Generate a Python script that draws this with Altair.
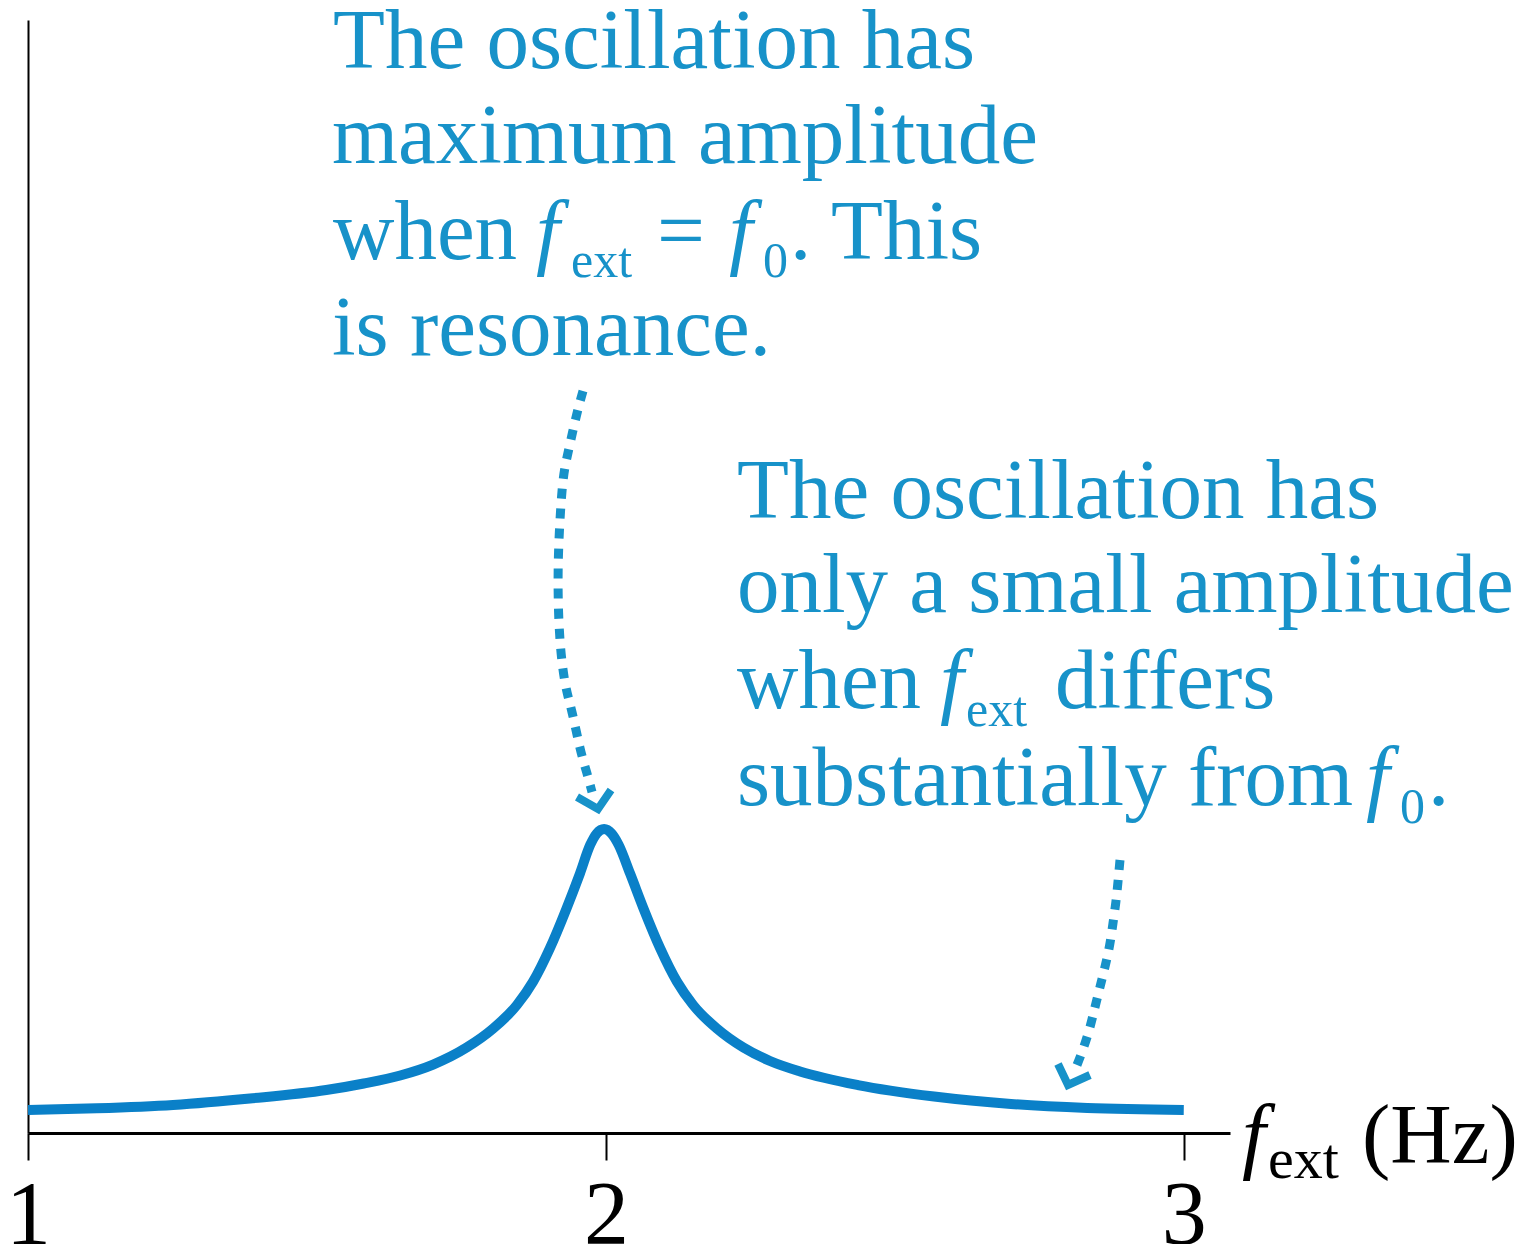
import altair as alt
import pandas as pd

# ---------------- data ----------------
F_EXT = [1.000, 1.119, 1.251, 1.384, 1.516, 1.581, 1.644, 1.701, 1.759, 1.805, 1.846, 1.874,
         1.903, 1.932, 1.955, 1.973, 1.984, 1.997, 2.010, 2.022, 2.042, 2.065, 2.094, 2.123,
         2.151, 2.192, 2.238, 2.284, 2.336, 2.436, 2.568, 2.701, 2.833, 3.000]
AMPLITUDE = [0.0207, 0.0222, 0.0252, 0.0310, 0.0386, 0.0445, 0.0517, 0.0615, 0.0768, 0.0939,
             0.1150, 0.1360, 0.1659, 0.2019, 0.2330, 0.2590, 0.2690, 0.2731, 0.2690, 0.2590,
             0.2330, 0.2019, 0.1659, 0.1360, 0.1150, 0.0939, 0.0768, 0.0647, 0.0553, 0.0431,
             0.0328, 0.0261, 0.0225, 0.0207]
X_TICKS = [1, 2, 3]

# ---------------- layout ----------------
X_MIN, X_MAX = 1.0, 3.08
Y_MIN, Y_MAX = 0.0, 1.0
PLOT_W, PLOT_H = 1202, 1113
PAD_L, PAD_T = 20, 12
TOTAL_W, TOTAL_H = 1514, 1236
PAD_R = TOTAL_W - PAD_L - PLOT_W
PAD_B = TOTAL_H - PAD_T - PLOT_H

BLUE_LINE = "#0a80c8"
BLUE_TEXT = "#1792c9"
FONT = "Liberation Serif"
BIG = 85
SUB = 50


def to_data(px, py):
    """reference page position -> data units"""
    x0, y0 = 8 + PAD_L, 8 + PAD_T
    f = X_MIN + (px - x0) / PLOT_W * (X_MAX - X_MIN)
    a = Y_MAX - (py - y0) / PLOT_H * (Y_MAX - Y_MIN)
    return f, a


# text segments: text, x, baseline y (reference page px), size, italic, colour
SEGMENTS = [
    ("The oscillation has", 333, 68, BIG, False, BLUE_TEXT),
    ("maximum amplitude", 332, 163, BIG, False, BLUE_TEXT),
    ("when", 333, 259, BIG, False, BLUE_TEXT),
    ("f", 536, 259, BIG, True, BLUE_TEXT),
    ("ext", 571, 277, SUB, False, BLUE_TEXT),
    ("=", 657, 259, BIG, False, BLUE_TEXT),
    ("f", 729, 259, BIG, True, BLUE_TEXT),
    ("0", 763, 277, SUB, False, BLUE_TEXT),
    (". This", 790, 259, BIG, False, BLUE_TEXT),
    ("is resonance.", 332, 355, BIG, False, BLUE_TEXT),
    ("The oscillation has", 737, 518, BIG, False, BLUE_TEXT),
    ("only a small amplitude", 737, 612, BIG, False, BLUE_TEXT),
    ("when", 737, 708, BIG, False, BLUE_TEXT),
    ("f", 940, 708, BIG, True, BLUE_TEXT),
    ("ext", 966, 726, SUB, False, BLUE_TEXT),
    ("differs", 1055, 708, BIG, False, BLUE_TEXT),
    ("substantially from", 737, 805, BIG, False, BLUE_TEXT),
    ("f", 1366, 805, BIG, True, BLUE_TEXT),
    ("0", 1400, 823, SUB, False, BLUE_TEXT),
    (".", 1428, 805, BIG, False, BLUE_TEXT),
    ("f", 1242, 1163, BIG, True, "black"),
    ("ext", 1268, 1178, 58, False, "black"),
    ("(Hz)", 1362, 1163, BIG, False, "black"),
]

# dotted arrows (reference page px)
ARROW1 = [(583, 391), (577, 412), (568, 453), (563, 475), (560, 517), (558, 560), (558, 603),
          (560, 647), (565, 687), (572, 710), (580, 750), (587, 773), (592, 792)]
ARROW2 = [(1120, 860), (1118, 882), (1116, 902), (1113, 923), (1110, 945), (1105, 967),
          (1100, 987), (1095, 1007), (1090, 1028), (1083, 1050), (1075, 1070)]
HEAD1 = [(577, 797), (598, 809), (611, 790)]
HEAD2 = [(1058, 1064), (1068, 1085), (1090, 1075)]

# ---------------- tables ----------------
curve_df = pd.DataFrame({"f": F_EXT, "A": AMPLITUDE})


def path_df(points, name):
    rows = []
    for i, (px, py) in enumerate(points):
        f, a = to_data(px, py)
        rows.append({"f": f, "A": a, "i": i, "id": name})
    return pd.DataFrame(rows)


arrows_df = pd.concat([path_df(ARROW1, "a1"), path_df(ARROW2, "a2")])
heads_df = pd.concat([path_df(HEAD1, "h1"), path_df(HEAD2, "h2")])

seg_rows = []
for text, px, py, size, italic, color in SEGMENTS:
    f, a = to_data(px, py)
    seg_rows.append({"text": text, "f": f, "A": a, "size": size,
                     "italic": italic, "color": color})
seg_df = pd.DataFrame(seg_rows)

# ---------------- chart ----------------
xscale = alt.Scale(domain=[X_MIN, X_MAX], nice=False, zero=False)
yscale = alt.Scale(domain=[Y_MIN, Y_MAX], nice=False, zero=False)

x_axis = alt.Axis(values=X_TICKS, tickCount=len(X_TICKS), tickMinStep=0.5,
                  labelExpr="datum.value", title=None,
                  grid=False, labelFont=FONT, labelFontSize=90, labelColor="black",
                  labelBaseline="alphabetic", labelPadding=83, labelFlush=False,
                  labelOverlap=False, labelBound=False, labelSeparation=0,
                  tickColor="black", tickSize=27, tickWidth=2,
                  domainColor="black", domainWidth=3)
y_axis = alt.Axis(labels=False, ticks=False, title=None, grid=False,
                  domainColor="black", domainWidth=2)

X_ENC = alt.X("f:Q", scale=xscale, axis=x_axis)
Y_ENC = alt.Y("A:Q", scale=yscale, axis=y_axis)

curve = alt.Chart(curve_df).mark_line(
    color=BLUE_LINE, strokeWidth=10, interpolate="monotone", strokeCap="butt",
    strokeJoin="round"
).encode(x=X_ENC, y=Y_ENC)

arrows = alt.Chart(arrows_df).mark_line(
    color=BLUE_TEXT, strokeWidth=9, strokeDash=[10, 10], strokeCap="butt",
    interpolate="basis"
).encode(x=X_ENC, y=Y_ENC, detail="id:N", order="i:Q")

heads = alt.Chart(heads_df).mark_line(
    color=BLUE_TEXT, strokeWidth=8, strokeCap="butt", strokeJoin="miter"
).encode(x=X_ENC, y=Y_ENC, detail="id:N", order="i:Q")


def text_layer(italic, color):
    return alt.Chart(seg_df).transform_filter(
        (alt.datum.italic == italic) & (alt.datum.color == color)
    ).mark_text(
        align="left", baseline="alphabetic", font=FONT,
        fontStyle="italic" if italic else "normal", color=color
    ).encode(
        x=X_ENC, y=Y_ENC,
        text="text:N",
        size=alt.Size("size:Q", scale=None, legend=None),
    )


texts = [text_layer(False, BLUE_TEXT), text_layer(True, BLUE_TEXT),
         text_layer(False, "black"), text_layer(True, "black")]

chart = alt.layer(curve, arrows, heads, *texts).properties(
    width=PLOT_W, height=PLOT_H,
    autosize=alt.AutoSizeParams(type="none"),
    padding={"left": PAD_L, "top": PAD_T, "right": PAD_R, "bottom": PAD_B},
).configure(
    background="white",
    view=alt.ViewConfig(stroke="transparent", strokeWidth=0),
)

chart.save("out.html", embed_options={"renderer": "svg", "actions": False})
